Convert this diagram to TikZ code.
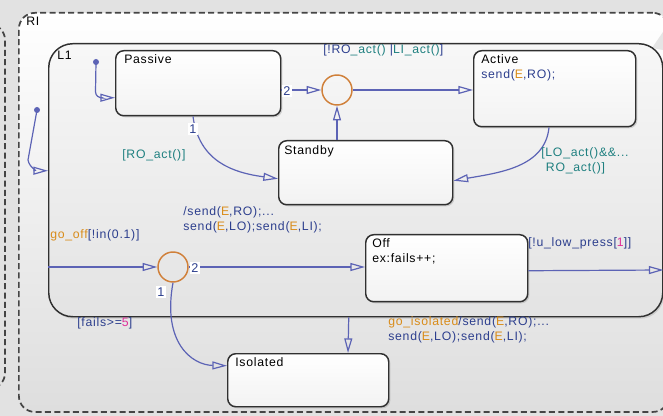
\documentclass[tikz,border=0pt]{standalone}
\usepackage{fontspec}
\setmainfont{Liberation Sans}
\newfontfamily\lblfont[LetterSpace=6]{Liberation Sans}
\usetikzlibrary{arrows.meta,shadows}
\definecolor{bgcol}{HTML}{E2E2E2}
\definecolor{trcol}{HTML}{5C63B5}
\definecolor{jcol}{HTML}{D0803A}
\definecolor{lblue}{HTML}{2D3F8E}
\definecolor{lteal}{HTML}{1F8080}
\definecolor{lorange}{HTML}{D98C1A}
\definecolor{lmag}{HTML}{E0309A}
\definecolor{edgecol}{HTML}{303030}
\newcommand{\cbl}[1]{\textcolor{lblue}{#1}}
\newcommand{\ctl}[1]{\textcolor{lteal}{#1}}
\newcommand{\cor}[1]{\textcolor{lorange}{#1}}
\newcommand{\cmg}[1]{\textcolor{lmag}{#1}}
\tikzset{
  dashline/.style={draw=edgecol!90, line width=1.3pt, dash pattern=on 4.5pt off 2.5pt},
  rigbox/.style={dashline, rounded corners=12pt, top color=white, bottom color=black!13, inner sep=0pt, anchor=north west},
  lonebox/.style={draw=edgecol, line width=1.1pt, rounded corners=18pt, top color=black!3, bottom color=black!11, inner sep=0pt, anchor=north west, drop shadow={opacity=0.25, shadow xshift=1pt, shadow yshift=-1.5pt}},
  statebox/.style={draw=edgecol, line width=1.1pt, rounded corners=6pt, top color=white, bottom color=black!5, inner sep=0pt, anchor=north west, drop shadow={opacity=0.3, shadow xshift=1.2pt, shadow yshift=-1.2pt}},
  stname/.style={anchor=north west, inner sep=0pt, align=left, font=\lblfont\fontsize{9.2}{11.2}\selectfont, text=black},
  lbl/.style={inner sep=0pt, align=left, font=\lblfont\fontsize{9.2}{11.2}\selectfont},
  numlbl/.style={fill=white, inner sep=1.2pt, text=lblue, font=\fontsize{9.5}{10}\selectfont},
  trans/.style={draw=trcol, line width=0.9pt, -{Triangle[open, length=11pt, width=6pt]}},
  junc/.style={circle, draw=jcol, line width=1.1pt, minimum size=22.5pt, inner sep=0pt},
  defdot/.style={circle, fill=trcol, minimum size=4.5pt, inner sep=0pt},
}
\begin{document}
\begin{tikzpicture}[x=0.75pt,y=-0.75pt]
\useasboundingbox (0,0) rectangle (663,416);
\fill[bgcol] (0,0) rectangle (663,416);
% partial neighbouring chart at left
\draw[dashline, rounded corners=12pt] (-120,24) rectangle (5,389);
% outer chart RI
\node[rigbox, minimum width=487.5pt, minimum height=299.3pt] (RI) at (18,12) {};
\node[stname] (RIlbl) at (26,17) {RI};
% resize handle
\fill[black!10] (652,48) -- (663,32) -- (663,50) -- cycle;
% superstate L1
\node[lonebox, minimum width=460.5pt, minimum height=204.75pt] (L1) at (48,43) {};
\node[stname] (L1lbl) at (57,51) {L1};
% states
\node[statebox, minimum width=123.75pt, minimum height=48.75pt] (passive) at (115,50) {};
\node[stname] at ([shift={(9,4)}]passive.north west) {Passive};
\node[statebox, minimum width=121.5pt, minimum height=57pt] (active) at (473,50) {};
\node[stname] at ([shift={(8,4)}]active.north west) {Active\\\cbl{send(}\cor{E}\cbl{,RO);}};
\node[statebox, minimum width=130.5pt, minimum height=48pt] (standby) at (278,140) {};
\node[stname] at ([shift={(6,5)}]standby.north west) {Standby};
\node[statebox, minimum width=121.5pt, minimum height=50.25pt] (off) at (365,234) {};
\node[stname] at ([shift={(7,4)}]off.north west) {Off\\ex:fails++;};
\node[statebox, minimum width=120.75pt, minimum height=39.75pt] (isolated) at (227,353) {};
\node[stname] at ([shift={(8,4)}]isolated.north west) {Isolated};
% junctions
\node[junc] (j1) at (337,90) {};
\node[junc] (j2) at (173,267) {};
% default transitions
\node[defdot] (d1) at (37,110) {};
\node[defdot] (d2) at (96,62) {};
\draw[trans] (d1.center) -- ++(-9,50) to[out=-80,in=180] ([shift={(0,-9.5)}]L1.west);
\draw[trans] (d2.center) -- ++(-0.5,30) to[out=-85,in=180] ([shift={(0,14.5)}]passive.west);
% inner transitions
\draw[trans] (passive.east |- j1.west) -- (j1.west);
\node[numlbl] (n2a) at (287,91) {2};
\draw[trans] (j1 |- standby.north) -- (j1.south);
\draw[trans] (j1.east) -- (active.west |- j1.east);
\node[lbl, anchor=west] (lb1) at (323,50) {\cbl{[!RO}\ctl{\_act()} \cbl{|}\ctl{LI\_act()}\cbl{]}};
\draw[trans] ([shift={(78,0)}]passive.south west) .. controls ([shift={(84,45)}]passive.south west) and ([shift={(-45,0)}]standby.west) .. ([shift={(0,6)}]standby.west);
\node[numlbl] (n1a) at (193,129) {1};
\node[lbl, anchor=west, text=lteal] (lb2) at (122,155) {[RO\_act()]};
\draw[trans] ([shift={(76,0)}]active.south west) .. controls ([shift={(72,40)}]active.south west) and ([shift={(45,0)}]standby.east) .. ([shift={(0,8)}]standby.east);
\node[lbl, anchor=north west, text=lteal] (lb3) at (541,147) {[LO\_act()\&\&...\\\hspace*{3.5pt}RO\_act()]};
% lower transitions
\draw[trans] (L1.west |- j2.west) -- (j2.west);
\node[lbl, anchor=west] (lb4) at (50,235) {\cor{go\_off}\cbl{[!in(0.1)]}};
\draw[trans] (j2.east) -- (off.west |- j2.east);
\node[numlbl] (n2b) at (195,268) {2};
\node[lbl, anchor=north west] (lb5) at (183,206) {\cbl{/send(}\cor{E}\cbl{,RO);...}\\\cbl{send(}\cor{E}\cbl{,LO);send(}\cor{E}\cbl{,LI);}};
\draw[trans] (j2.south) .. controls ([shift={(-11,60)}]j2.south) and ([shift={(-35,0)}]isolated.north west |- 0,365) .. ([shift={(0,-14.5)}]isolated.west);
\node[numlbl] (n1b) at (161,292) {1};
\node[lbl, anchor=west] (lb6) at (77,323) {\cbl{[fails>=}\cmg{5}\cbl{]}};
\draw[trans] ([shift={(0,2.5)}]off.east) -- (L1.east |- 0,270);
\node[lbl, anchor=west] (lb7) at (528,243) {\cbl{[!u\_low\_press[}\cmg{1}\cbl{]]}};
\draw[trans] ([shift={(-7,0)}]L1.south) -- ([shift={(121,0)}]isolated.north west);
\node[lbl, anchor=north west] (lb8) at (388,316) {\cor{go\_isolated}\cbl{/send(}\cor{E}\cbl{,RO);...}\\\cbl{send(}\cor{E}\cbl{,LO);send(}\cor{E}\cbl{,LI);}};
\end{tikzpicture}
\end{document}
